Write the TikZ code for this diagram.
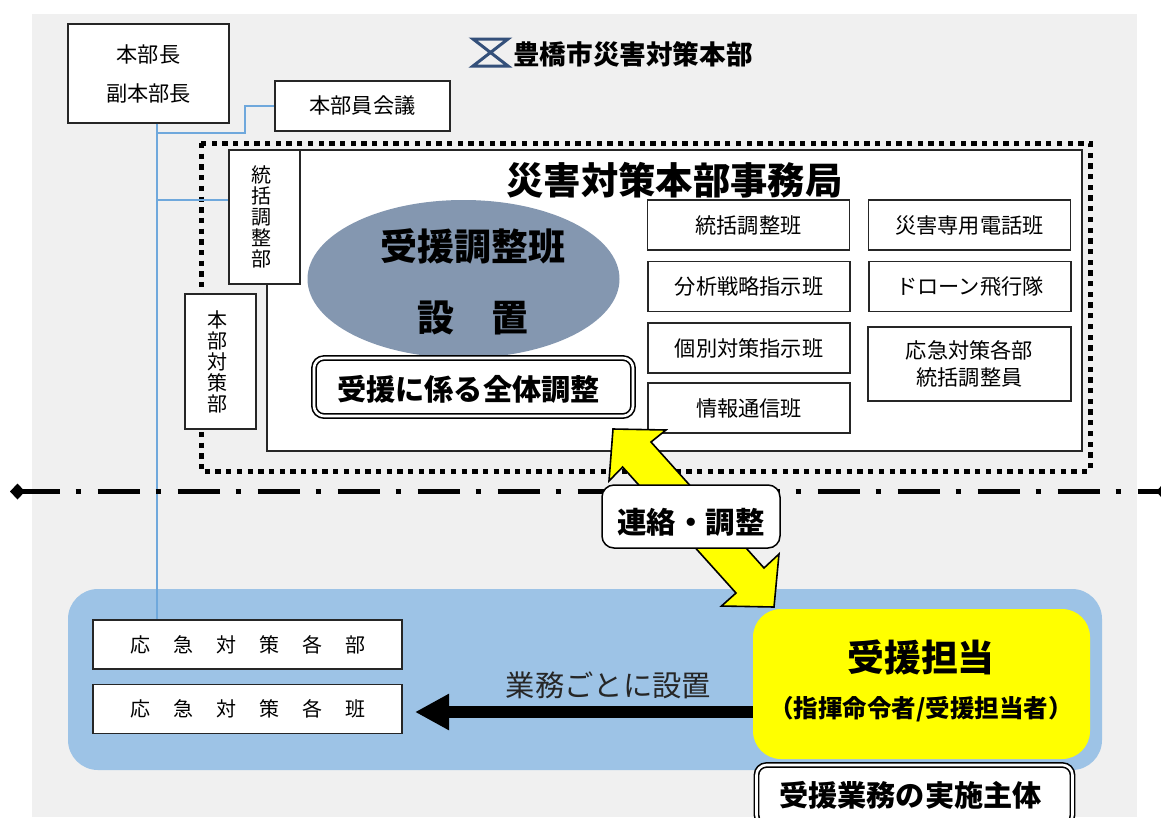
\documentclass[tikz,border=0pt]{standalone}
\usepackage{fontspec}
\setmainfont{Noto Sans CJK JP}
\usetikzlibrary{arrows.meta}
\usetikzlibrary{shapes.geometric}
\newcommand{\pxfont}[2]{\fontsize{#1}{#2}\selectfont}
\definecolor{panelgray}{HTML}{F0F0F0}
\definecolor{regionblue}{HTML}{9DC3E6}
\definecolor{linkblue}{HTML}{6FA8DC}
\definecolor{ovalblue}{HTML}{8497B0}
\definecolor{markblue}{HTML}{34507A}
\definecolor{leadyellow}{RGB}{255,255,0}
\tikzset{
  plainbox/.style={draw=black!85,fill=white,line width=1.2pt,inner sep=0pt,align=center,font=\pxfont{21.2}{27}},
  teambox/.style={plainbox,minimum width=202pt,minimum height=50pt},
  tallbox/.style={plainbox,font=\pxfont{20}{21},minimum width=71pt,minimum height=134pt},
  widebox/.style={plainbox,minimum width=309pt,minimum height=49pt,font={\pxfont{20}{20}\spaceskip=23pt\relax}},
  doublebox/.style={draw=black,fill=white,line width=1.6pt,double=white,double distance=2.6pt,rounded corners=10pt,inner sep=0pt,font=\pxfont{29.2}{29.2}\bfseries},
  linkline/.style={draw=linkblue,line width=1.2pt},
}
\begin{document}
\begin{tikzpicture}[x=1pt,y=-1pt]
\clip (0,0) rectangle (1161,817);
\fill[white] (0,0) rectangle (1161,817);
\fill[panelgray] (32,14) rectangle (1137,817);
\fill[regionblue,rounded corners=30pt] (68,589) rectangle (1102,770);
\node[plainbox,minimum width=161pt,minimum height=99pt,font=\pxfont{21.2}{39}] (chief) at (148.5,73.5) {本部長\\副本部長};
\node[plainbox,minimum width=175pt,minimum height=50pt] (council) at (362.5,106) {本部員会議};
\draw[line width=5pt,dash pattern=on 5.3pt off 5.4pt] (201,143) rectangle (1090,471);
\node[plainbox,minimum width=815pt,minimum height=301pt] (office) at (674.5,300.5) {};
\node[tallbox] (liaison) at (264.5,217) {\hspace*{-6pt}統\\\hspace*{-6pt}括\\\hspace*{-6pt}調\\\hspace*{-6pt}整\\\hspace*{-6pt}部};
\node[tallbox,minimum height=135pt] (hq) at (220.5,361.5) {\hspace*{-6pt}本\\\hspace*{-6pt}部\\\hspace*{-6pt}対\\\hspace*{-6pt}策\\\hspace*{-6pt}部};
\node[font=\pxfont{26.6}{26.6}\bfseries,inner sep=0pt] (title) at (633,54) {豊橋市災害対策本部};
\draw[markblue,line width=3pt] (473,39) -- (508,39) -- (473,66) -- (508,66) -- cycle;
\node[font=\pxfont{37.3}{37.3}\bfseries,inner sep=0pt] (officetitle) at (674.5,180) {災害対策本部事務局};
\node[ellipse,fill=ovalblue,inner sep=0pt,minimum width=312pt,minimum height=158pt] (oval) at (463.5,279) {};
\node[align=center,inner sep=0pt,font=\pxfont{37}{71}\bfseries] (ovaltext) at (472.5,282) {受援調整班\\設　置};
\node[doublebox,minimum width=319pt,minimum height=58pt,text height=30pt,text depth=3.8pt] (overall) at (473.5,387) {\hspace*{-10pt}受援に係る全体調整};
\node[teambox] (team1) at (748.5,225) {統括調整班};
\node[teambox] (team2) at (749,286.5) {分析戦略指示班};
\node[teambox] (team3) at (749,348) {個別対策指示班};
\node[teambox] (team4) at (749,408) {情報通信班};
\node[teambox] (team5) at (969.5,225) {災害専用電話班};
\node[teambox] (team6) at (970,286.5) {ドローン飛行隊};
\node[teambox,minimum width=203pt,minimum height=74pt] (team7) at (969.5,364) {応急対策各部\\統括調整員};
\node[widebox] (dept) at (247.5,644.5) {応 急 対 策 各 部};
\node[widebox] (unit) at (247.5,709) {応 急 対 策 各 班};
\coordinate (trunk) at (157,133);
\coordinate (branch) at (157,200);
\draw[linkline] ([xshift=8.5pt]chief.south) -- ([xshift=8.5pt]chief.south |- dept.north);
\draw[linkline] (trunk) -- ++(88,0) |- (council.west);
\draw[linkline] (branch) -- (branch -| liaison.west);
\coordinate (lineleft) at (10,491.5);
\coordinate (lineright) at (1171,491.5);
\draw[line width=5pt,dash pattern=on 42pt off 16pt on 5pt off 17pt,dash phase=4pt,{Diamond[length=15pt,width=16pt]}-{Diamond[length=15pt,width=16pt]}] (lineleft) -- (lineright);
\draw[fill=leadyellow,draw=black,line width=1.6pt,line join=miter] (613,429) -- (666,430) -- (651,442) -- (764,568) -- (779,554) -- (774,607) -- (721.5,606) -- (736,593) -- (622.6,467) -- (609,481) -- cycle;
\node[draw=black,fill=white,line width=1.5pt,rounded corners=12pt,inner sep=0pt,minimum width=178pt,minimum height=63pt,font=\pxfont{29.5}{29.5}\bfseries,text height=37pt,text depth=3.6pt] (contact) at (691,516.5) {連絡・調整};
\node[fill=leadyellow,rounded corners=28pt,inner sep=0pt,minimum width=337pt,minimum height=150pt] (lead) at (921.5,684) {};
\node[font=\pxfont{36.8}{36.8}\bfseries,inner sep=0pt] (leadtitle) at (921,657) {受援担当};
\node[font=\pxfont{24.5}{24.5}\bfseries,inner sep=0pt] (leadsub) at (921,709) {（指揮命令者/受援担当者）};
\coordinate (tiptarget) at (415,712);
\draw[line width=12pt,-{Triangle[length=34pt,width=34pt]}] (lead.west |- tiptarget) -- (tiptarget);
\node[font=\pxfont{29.3}{29.3},text=black!85,inner sep=0pt] (setup) at (608.5,685) {業務ごとに設置};
\node[doublebox,minimum width=316pt,minimum height=60pt] (actor) at (914.5,795) {\hspace*{-8pt}受援業務の実施主体};
\end{tikzpicture}
\end{document}
